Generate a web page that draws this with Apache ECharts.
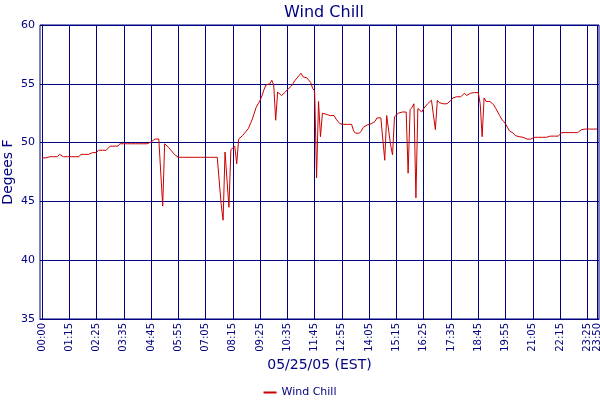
<!DOCTYPE html>
<html>
<head>
<meta charset="utf-8">
<script src="https://cdn.jsdelivr.net/npm/echarts@6/dist/echarts.min.js"></script>
<style>html,body{margin:0;padding:0;background:#fff}#c{width:600px;height:400px}</style>
</head>
<body>
<div id="c"></div>
<script>
// Tick positions (sample index) and their time labels
const tickIndex = [0,14,28,42,56,70,84,98,112,126,140,154,168,182,196,210,224,238,252,266,280];
const tickLabels = ['00:00','01:15','02:25','03:35','04:45','05:55','07:05','08:15','09:25','10:35','11:45','12:55','14:05','15:15','16:25','17:35','18:45','19:55','21:05','22:15','23:25'];
const lastTickIndex = [285];
const lastTickLabel = ['23:50'];
const yTicks = [35,40,45,50,55,60];

// Wind chill readings (deg F), one per sample
const windChill = [
48.7,48.7,48.7,48.8,48.8,48.8,48.8,48.8,48.8,49.0,
49.0,48.8,48.8,48.8,48.8,48.8,48.8,48.8,48.8,48.8,
49.0,49.0,49.0,49.0,49.0,49.15,49.15,49.15,49.15,49.35,
49.35,49.35,49.35,49.35,49.35,49.7,49.7,49.7,49.7,49.7,
49.9,49.9,49.9,49.9,49.9,49.9,49.9,49.9,49.9,49.9,
49.9,49.9,49.9,49.9,49.9,50.05,50.05,50.1,50.3,50.3,
50.3,50.25,44.6,49.9,49.8,49.6,49.4,49.2,49.0,48.85,
48.75,48.75,48.75,48.75,48.75,48.75,48.75,48.75,48.75,48.75,
48.75,48.75,48.75,48.75,48.75,48.65,48.75,48.75,48.75,48.75,
48.75,48.75,44.8,43.4,49.2,49.2,44.5,49.4,49.4,49.7,
48.2,50.3,50.4,50.6,50.8,50.9,51.2,51.6,52.0,52.5,
53.0,53.3,53.6,54.0,54.5,54.9,55.0,55.0,55.3,54.9,
51.9,54.3,54.3,54.0,54.1,54.3,54.5,54.6,54.8,54.9,
55.3,55.5,55.7,55.9,55.6,55.7,55.5,55.4,55.1,54.6,
54.4,47.0,53.5,50.5,52.5,52.6,52.4,52.3,52.3,52.3,
52.3,52.0,51.8,51.6,51.55,51.55,51.55,51.55,51.55,51.55,
51.0,50.8,50.8,50.8,51.0,51.3,51.4,51.5,51.6,51.6,
51.6,51.8,52.1,52.1,52.1,52.2,48.5,52.3,52.3,49.8,
48.95,52.2,52.3,52.5,52.6,52.6,52.6,52.6,47.4,52.8,
53.0,53.3,45.3,52.9,52.8,52.6,52.9,53.05,53.3,53.4,
53.6,53.5,51.1,53.6,53.4,53.3,53.3,53.3,53.3,53.4,
53.6,53.8,53.8,53.9,54.0,53.9,54.0,54.2,54.0,54.1,
54.2,54.25,54.25,54.25,54.25,53.3,50.5,53.8,53.5,53.5,
53.5,53.4,53.2,52.9,52.6,52.3,52.0,51.8,51.6,51.3,
51.0,50.9,50.8,50.6,50.55,50.5,50.45,50.45,50.45,50.3,
50.3,50.3,50.45,50.45,50.45,50.45,50.45,50.45,50.45,50.45,
50.45,50.55,50.55,50.55,50.55,50.55,50.55,50.85,50.85,50.85,
50.85,50.85,50.85,50.85,50.85,50.85,50.95,51.1,51.15,51.15,
51.15,51.15,51.15,51.15,51.15,51.15
];

const NAVY = '#000080';
const FONT = 'DejaVu Sans';
const labelStyle = {rotate: 90, margin: 4, hideOverlap: false, fontFamily: FONT, fontSize: 10, color: NAVY};
const chart = echarts.init(document.getElementById('c'), null, {renderer: 'canvas'});
chart.setOption({
  animation: false,
  backgroundColor: '#ffffff',
  textStyle: {fontFamily: FONT, color: NAVY},
  title: {
    text: 'Wind Chill',
    left: 319, top: 0, textAlign: 'center',
    textStyle: {fontFamily: FONT, fontSize: 16, fontWeight: 'normal', color: NAVY}
  },
  legend: {
    top: 382, left: 'center',
    icon: 'rect', itemWidth: 13, itemHeight: 2, itemGap: 4,
    textStyle: {fontFamily: FONT, fontSize: 11, color: NAVY},
    data: ['Wind Chill']
  },
  grid: {
    left: 40, right: 1, top: 25, bottom: 81,
    outerBoundsMode: 'none', containLabel: false,
    show: true, borderColor: NAVY, borderWidth: 1, backgroundColor: 'transparent'
  },
  xAxis: [{
    type: 'value', min: -1, max: 286, position: 'bottom',
    name: '05/25/05 (EST)', nameLocation: 'middle', nameGap: 39, nameMoveOverlap: false,
    nameTextStyle: {fontFamily: FONT, fontSize: 14, color: NAVY},
    axisLine: {show: true, lineStyle: {color: NAVY, width: 1}},
    axisTick: {show: false, customValues: tickIndex},
    axisLabel: Object.assign({
      customValues: tickIndex, showMinLabel: true, showMaxLabel: true,
      formatter: function (v) { const k = tickIndex.indexOf(v); return k >= 0 ? tickLabels[k] : ''; }
    }, labelStyle),
    splitLine: {show: true, lineStyle: {color: NAVY, width: 1}}
  }, {
    type: 'value', min: -1, max: 286, position: 'bottom', offset: 0,
    axisLine: {show: false},
    axisTick: {show: false, customValues: lastTickIndex},
    axisLabel: Object.assign({
      customValues: lastTickIndex, showMinLabel: true, showMaxLabel: true,
      formatter: function (v) { const k = lastTickIndex.indexOf(v); return k >= 0 ? lastTickLabel[k] : ''; }
    }, labelStyle),
    splitLine: {show: true, lineStyle: {color: NAVY, width: 1}}
  }],
  yAxis: {
    type: 'value', min: 35, max: 60, interval: 5,
    name: 'Degees F', nameLocation: 'middle', nameGap: 25, nameMoveOverlap: false,
    nameTextStyle: {fontFamily: FONT, fontSize: 14, color: NAVY},
    axisLine: {show: true, lineStyle: {color: NAVY, width: 1}},
    axisTick: {show: false},
    axisLabel: {margin: 5, fontFamily: FONT, fontSize: 11, color: NAVY},
    splitLine: {show: true, lineStyle: {color: NAVY, width: 1}}
  },
  series: [{
    name: 'Wind Chill',
    type: 'line',
    xAxisIndex: 0,
    showSymbol: false,
    symbol: 'none',
    color: '#cc0000',
    lineStyle: {color: '#cc0000', width: 1},
    data: windChill.map(function (v, i) { return [i, v]; })
  }]
});
</script>
</body>
</html>
